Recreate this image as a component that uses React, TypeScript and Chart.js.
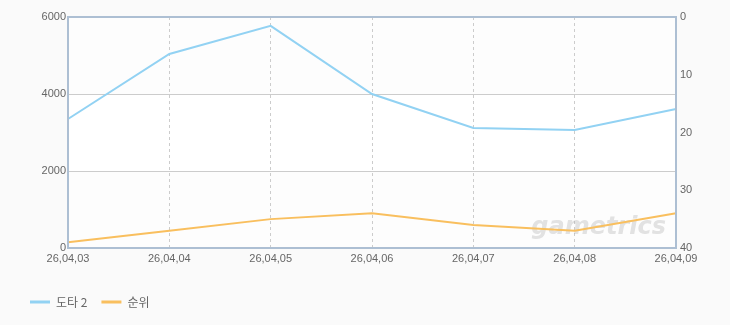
import React, { useEffect, useRef } from "react";
import { Chart, registerables } from "chart.js";

Chart.register(...registerables);

const categories = ["26,04,03", "26,04,04", "26,04,05", "26,04,06", "26,04,07", "26,04,08", "26,04,09"];
const dota2Values = [3350, 5040, 5770, 4000, 3120, 3065, 3610];
const rankValues = [39, 37, 35, 34, 36, 37, 34];
const leftTicks = [0, 2000, 4000, 6000];
const rightTicks = [0, 10, 20, 30, 40];
const seriesNames = ["도타 2", "순위"];

const BLUE = "#92d2f3";
const ORANGE = "#f9bf5e";
const FRAME = "#adbfd3";
const GRID = "#cccccc";
const TEXT = "#666666";
const TICK_FONT = { family: "'Liberation Sans', Arial, sans-serif", size: 11 };

const bgPlugin = {
  id: "bgPlugin",
  beforeDraw(chart: any) {
    const { ctx, chartArea, scales } = chart;
    ctx.save();
    ctx.fillStyle = "#fafafa";
    ctx.fillRect(0, 0, chart.width, chart.height);
    ctx.fillStyle = "#fdfdfd";
    ctx.fillRect(chartArea.left, chartArea.top, chartArea.right - chartArea.left, chartArea.bottom - chartArea.top);
    const y = scales.y;
    const y1 = y.getPixelForValue(4000);
    const y2 = y.getPixelForValue(2000);
    ctx.fillStyle = "#ffffff";
    ctx.fillRect(chartArea.left, y1, chartArea.right - chartArea.left, y2 - y1);
    ctx.restore();
  },
  beforeDatasetsDraw(chart: any) {
    const { ctx, chartArea } = chart;
    ctx.save();
    ctx.font = "italic bold 24px 'DejaVu Sans', sans-serif";
    ctx.fillStyle = "rgba(175,175,175,0.35)";
    ctx.textAlign = "right";
    ctx.textBaseline = "alphabetic";
    ctx.fillText("gametrics", chartArea.right - 10, chartArea.bottom - 14);
    ctx.restore();
  },
  afterDraw(chart: any) {
    const { ctx, chartArea } = chart;
    ctx.save();
    ctx.strokeStyle = FRAME;
    ctx.lineWidth = 2;
    ctx.strokeRect(chartArea.left, chartArea.top, chartArea.right - chartArea.left, chartArea.bottom - chartArea.top);
    ctx.restore();
  },
};

export default function App() {
  const ref = useRef<HTMLCanvasElement | null>(null);
  useEffect(() => {
    if (!ref.current) return;
    const chart = new Chart(ref.current, {
      type: "line",
      data: {
        labels: categories,
        datasets: [
          {
            label: seriesNames[0],
            data: dota2Values,
            borderColor: BLUE,
            backgroundColor: BLUE,
            borderWidth: 2,
            pointRadius: 0,
            tension: 0,
            yAxisID: "y",
          },
          {
            label: seriesNames[1],
            data: rankValues,
            borderColor: ORANGE,
            backgroundColor: ORANGE,
            borderWidth: 2,
            pointRadius: 0,
            tension: 0,
            yAxisID: "y1",
          },
        ],
      },
      options: {
        animation: false,
        responsive: false,
        layout: { padding: { left: 16, right: 0, top: 17, bottom: 7 } },
        plugins: {
          tooltip: { enabled: false },
          legend: {
            position: "bottom",
            align: "start",
            labels: {
              usePointStyle: true,
              pointStyle: "line",
              pointStyleWidth: 20,
              padding: 14,
              color: TEXT,
              font: { family: "'Noto Sans CJK KR', 'Liberation Sans', sans-serif", size: 12 },
              generateLabels(chart: any) {
                return chart.data.datasets.map((ds: any, i: number) => ({
                  text: ds.label,
                  fillStyle: ds.borderColor,
                  strokeStyle: ds.borderColor,
                  lineWidth: 3,
                  pointStyle: "line",
                  hidden: false,
                  datasetIndex: i,
                  fontColor: TEXT,
                }));
              },
            },
          },
        },
        scales: {
          x: {
            type: "category",
            offset: false,
            afterFit(scale: any) {
              scale.height = 34;
            },
            grid: {
              display: true,
              color: GRID,
              lineWidth: 1,
              drawTicks: false,
            },
            border: { display: false, dash: [3, 3] },
            ticks: { color: TEXT, font: TICK_FONT, padding: 4, maxRotation: 0, autoSkip: false },
          },
          y: {
            position: "left",
            min: 0,
            max: 6000,
            afterFit(scale: any) {
              scale.width = 52;
            },
            afterBuildTicks(scale: any) {
              scale.ticks = leftTicks.map((v) => ({ value: v }));
            },
            grid: { color: GRID, drawTicks: false },
            border: { display: false },
            ticks: { color: TEXT, font: TICK_FONT, padding: 2, callback: (v: any) => String(v) },
          },
          y1: {
            position: "right",
            min: 0,
            max: 40,
            reverse: true,
            afterFit(scale: any) {
              scale.width = 54;
            },
            afterBuildTicks(scale: any) {
              scale.ticks = rightTicks.map((v) => ({ value: v }));
            },
            grid: { display: false, drawTicks: false },
            border: { display: false },
            ticks: { color: TEXT, font: TICK_FONT, padding: 4, callback: (v: any) => String(v) },
          },
        },
      },
      plugins: [bgPlugin],
    } as any);
    return () => chart.destroy();
  }, []);
  return (
    <div style={{ position: "fixed", left: 0, top: 0, width: 730, height: 325, background: "#fafafa" }}>
      <canvas ref={ref} width={730} height={325} style={{ display: "block", width: 730, height: 325 }} />
    </div>
  );
}
